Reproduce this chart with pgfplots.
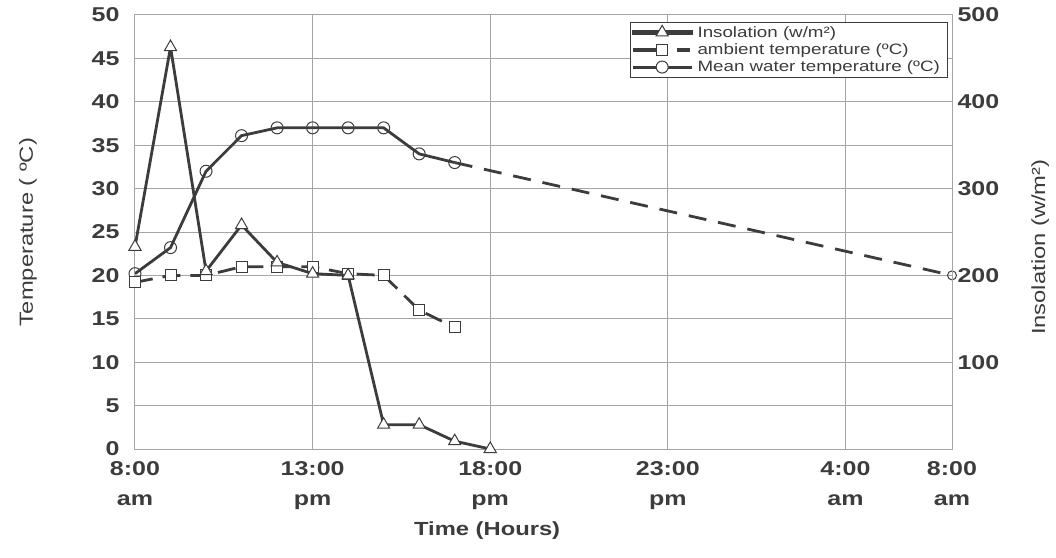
\documentclass[border=0pt]{standalone}
\usepackage{pgfplots}
\pgfplotsset{compat=1.18}
\usepackage{fontspec}
\setmainfont{Liberation Sans}[FakeStretch=1.25]
\definecolor{linecol}{RGB}{60,60,60}
\definecolor{gridcol}{RGB}{165,165,165}
\definecolor{txtcol}{RGB}{60,60,60}
\pgfplotstableread{
x ins
0 233
1 463
2 205
3 258
4 215
5 202
6 200
7 28
8 28
9 9
10 0
}\insol
\pgfplotstableread{
x amb
0 19.2
1 20
2 20
3 21
4 21
5 21
6 20.2
7 20
8 16
9 14
}\ambient
\pgfplotstableread{
x wat
0 20.2
1 23.2
2 32.0
3 36.1
4 37.0
5 37.0
6 37.0
7 37.0
8 34.0
9 33.0
}\water
\pgfplotstableread{
x wat
9 33.0
23 20.0
}\waterext
\begin{document}
\begin{tikzpicture}
\pgfplotsset{
  commonax/.style={
    width=817pt, height=434pt, scale only axis,
    xmin=0, xmax=23,
    /pgf/number format/assume math mode=true,
    major tick length=0pt,
    tick label style={font=\fontsize{20}{30}\selectfont\bfseries, text=txtcol},
    label style={font=\fontsize{19}{22}\selectfont, text=txtcol},
  },
}
\begin{axis}[commonax,
  ymin=0, ymax=50,
  ytick={0,5,...,50},
  xtick={0,5,10,15,20,23},
  xticklabels={{8:00\\am},{13:00\\pm},{18:00\\pm},{23:00\\pm},{4:00\\am},{8:00\\am}},
  xticklabel style={align=center, yshift=-9pt},
  yticklabel style={xshift=-12pt},
  grid=major,
  major grid style={gridcol, line width=1pt},
  axis line style={gridcol, line width=1pt},
  xlabel={\bfseries Time (Hours)},
  ylabel={Temperature ( ºC)},
  xlabel style={at={(axis description cs:0.431,-0.189)}, anchor=center},
  ylabel style={at={(axis description cs:-0.131,0.5)}, anchor=center},
]
\addplot[linecol, line width=2.8pt, mark=o, mark size=6pt, mark options={solid, fill=white, line width=1pt}] table[x=x,y=wat] {\water};
\addplot[linecol, line width=2.8pt, dash pattern=on 18pt off 10pt, mark=square*, mark size=5.5pt, mark options={solid, fill=white, line width=1pt}] table[x=x,y=amb] {\ambient};
\addplot[linecol, line width=2.8pt, dash pattern=on 18pt off 12pt, mark=o, mark size=4.5pt, mark indices={2}, mark options={solid, fill=white, line width=1pt}] table[x=x,y=wat] {\waterext};
\end{axis}
\begin{axis}[commonax,
  ymin=0, ymax=500,
  axis y line*=right, axis x line=none,
  ytick={100,200,300,400,500},
  yticklabel style={xshift=2pt},
  axis line style={gridcol, line width=1pt},
  ylabel={Insolation (w/m²)},
  ylabel style={at={(axis description cs:1.108,0.465)}, anchor=center},
  legend style={at={(rel axis cs:0.994,0.984)}, anchor=north east, draw=linecol, fill=white,
    font=\fontsize{15}{17}\selectfont, text=txtcol, cells={anchor=west}, row sep=1pt, inner sep=2pt,
    nodes={inner xsep=5pt}},
]
\addplot[linecol, line width=2.8pt, mark=triangle*, mark size=7pt, mark options={solid, fill=white, line width=1pt},
  legend image code/.code={
    \fill[linecol] (0pt,-1.3pt) rectangle (58pt,1.3pt);
    \draw[linecol, fill=white, line width=1pt] (29pt,7pt) -- (35pt,-3.5pt) -- (23pt,-3.5pt) -- cycle;}] table[x=x,y=ins] {\insol};
\addlegendentry{Insolation (w/m²)}
\addlegendimage{legend image code/.code={
    \fill[linecol] (0pt,-1.3pt) rectangle (29pt,1.3pt);
    \fill[linecol] (44pt,-1.3pt) rectangle (56pt,1.3pt);
    \draw[linecol, fill=white, line width=1pt] (23.5pt,-5.5pt) rectangle (34.5pt,5.5pt);}}
\addlegendentry{ambient temperature (ºC)}
\addlegendimage{legend image code/.code={
    \fill[linecol] (0pt,-1.3pt) rectangle (58pt,1.3pt);
    \draw[linecol, fill=white, line width=1pt] (29pt,0pt) circle (6pt);}}
\addlegendentry{Mean water temperature (ºC)}
\end{axis}
\path (-135pt,-108pt) rectangle (921pt,449pt);
\end{tikzpicture}
\end{document}
